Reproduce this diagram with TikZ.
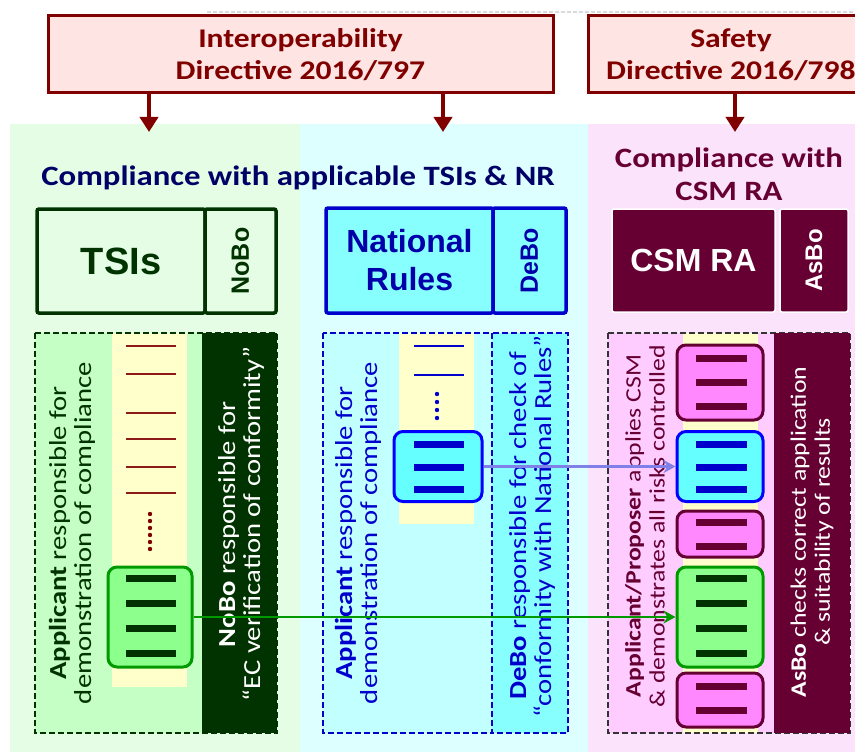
\documentclass[tikz,border=0pt]{standalone}
\usepackage{fontspec}
\setmainfont{Carlito}[FakeStretch=1.17]
\newfontfamily\arialfont{Liberation Sans}
\usetikzlibrary{arrows.meta}

\definecolor{dirred}{HTML}{800000}
\definecolor{dirpink}{HTML}{FFE4E4}
\definecolor{bggreen}{HTML}{E5FDE5}
\definecolor{bgcyan}{HTML}{DDFFFF}
\definecolor{bgpink}{HTML}{FCE3FC}
\definecolor{navy}{HTML}{000066}
\definecolor{maroon}{HTML}{660033}
\definecolor{dgreen}{HTML}{003300}
\definecolor{lgreen}{HTML}{C6FFC6}
\definecolor{boxgreen}{HTML}{8CFF8C}
\definecolor{edgegreen}{HTML}{009900}
\definecolor{nrcyan}{HTML}{88FFFF}
\definecolor{lcyan}{HTML}{C2FFFF}
\definecolor{boxcyan}{HTML}{66FFFF}
\definecolor{dblue}{HTML}{0000CC}
\definecolor{nrtext}{HTML}{0000AA}
\definecolor{lpink}{HTML}{FFCCFF}
\definecolor{boxpink}{HTML}{FF88FF}
\definecolor{pale}{HTML}{FFFFCC}
\definecolor{arrowblue}{HTML}{8080E8}

\begin{document}
\begin{tikzpicture}[x=1pt, y=-1pt,
  dirbox/.style={draw=dirred, fill=dirpink, line width=3pt, text=dirred, align=center, font=\bfseries\fontsize{27}{32}\selectfont, minimum height=77pt, inner sep=0pt},
  dirarrow/.style={dirred, line width=4pt, -{Triangle[length=15pt, width=18pt]}},
  head/.style={font=\bfseries\fontsize{28}{33}\selectfont, align=center},
  rulebox/.style={line width=3.5pt, rounded corners=2pt, inner sep=0pt, align=center},
  req/.style={rounded corners=9pt, line width=3pt, minimum width=86pt, inner sep=0pt},
  bar/.style={line width=7pt},
  remark/.style={rotate=90, align=center, font=\fontsize{24.5}{25}\selectfont},
  smallremark/.style={remark, font=\fontsize{22}{24}\selectfont},
  edge/.style={dashed, line width=1.6pt, dash pattern=on 6pt off 3pt},
]
\useasboundingbox (0,0) rectangle (855,752);
\fill[white] (0,0) rectangle (855,752);

% Background panels
\fill[bggreen] (10,124) rectangle (300,752);
\fill[bgcyan] (300,124) rectangle (588,752);
\fill[bgpink] (588,124) rectangle (855,752);
\draw[black!15, line width=2pt, dash pattern=on 4pt off 2pt] (207,12) -- (855,12);

% Directive boxes
\node[dirbox, minimum width=505pt] (interop) at (300.5,54.5) {Interoperability\\Directive 2016/797};
\node[dirbox, minimum width=286pt] (safety) at (731,54.5) {Safety\\Directive 2016/798};
\coordinate (tsiin) at (149,132);
\coordinate (nrin) at (443,132);
\coordinate (csmin) at (735,132);
\draw[dirarrow] (interop.south -| tsiin) -- (tsiin);
\draw[dirarrow] (interop.south -| nrin) -- (nrin);
\draw[dirarrow] (safety.south -| csmin) -- (csmin);

% Headings
\node[head, text=navy] (tsihead) at (298,178) {Compliance with applicable TSIs \& NR};
\node[head, text=maroon] (csmhead) at (729,174) {Compliance with\\CSM RA};

% Rule boxes
\node[rulebox, draw=dgreen, text=dgreen, minimum width=168pt, minimum height=104pt, font=\arialfont\bfseries\fontsize{38}{40}\selectfont] (tsi) at (121,261) {TSIs};
\node[rulebox, draw=dgreen, text=dgreen, minimum width=71pt, minimum height=104pt, font=\arialfont\bfseries\fontsize{25}{28}\selectfont] (nobo) at (240.5,261) {\rotatebox{90}{NoBo}};
\node[rulebox, draw=dblue, fill=nrcyan, text=nrtext, minimum width=167pt, minimum height=105pt, font=\arialfont\bfseries\fontsize{32}{38}\selectfont] (nr) at (409.5,260.5) {National\\Rules};
\node[rulebox, draw=dblue, fill=nrcyan, text=nrtext, minimum width=73pt, minimum height=105pt, font=\arialfont\bfseries\fontsize{25}{28}\selectfont] (debo) at (529.5,260.5) {\rotatebox{90}{DeBo}};
\node[rulebox, draw=white, line width=1.5pt, fill=maroon, text=white, minimum width=163pt, minimum height=103pt, font=\arialfont\bfseries\fontsize{32}{34}\selectfont] (csm) at (693.5,260.5) {CSM RA};
\node[rulebox, draw=white, line width=1.5pt, fill=maroon, text=white, minimum width=68pt, minimum height=103pt, font=\arialfont\bfseries\fontsize{24}{28}\selectfont] (asbo) at (814,260.5) {\rotatebox{90}{AsBo}};

% TSI column
\fill[lgreen] (35,333) rectangle (202,733);
\fill[pale] (112,333) rectangle (187,687);
\fill[dgreen] (202,333) rectangle (277,733);
\draw[edge, dgreen] (35,333) rectangle (277,733);
\foreach \y in {346,374,413,439,467,493}
  \draw[dirred!90, line width=2pt] (126,\y) -- (176,\y);
\foreach \y in {514,521,...,549}
  \fill[dirred] (150,\y) circle (2.2);
\node[req, draw=edgegreen, fill=boxgreen, minimum width=84pt, minimum height=100pt] (tsireq) at (150,617) {};
\foreach \y in {578,603,628,653}
  \draw[bar, dgreen] (126,\y) -- (176,\y);
\node[remark, text=dgreen] (tsiapp) at (72,533) {\textbf{Applicant} responsible for\\demonstration of compliance};
\node[remark, text=white] (tsicheck) at (241,524) {\textbf{NoBo} responsible for\\“EC verification of conformity”};

% National rules column
\fill[lcyan] (323,333) rectangle (492,733);
\fill[nrcyan] (492,333) rectangle (568,733);
\fill[pale] (399,333) rectangle (474,524);
\draw[edge, dblue] (323,333) rectangle (492,733);
\draw[edge, dblue] (492,333) rectangle (568,733);
\foreach \y in {346,375}
  \draw[dblue, line width=2pt] (414,\y) -- (464,\y);
\foreach \y in {394,402,...,418}
  \fill[dblue] (437,\y) circle (2.2);
\node[req, draw=blue, fill=boxcyan, minimum width=88pt, minimum height=70pt] (nrreq) at (438,466.5) {};
\foreach \y in {444,467,489}
  \draw[bar, dblue] (414,\y) -- (464,\y);
\node[remark, text=dblue] (nrapp) at (358,533) {\textbf{Applicant} responsible for\\demonstration of compliance};
\node[remark, text=dblue] (nrcheck) at (532,526) {\textbf{DeBo} responsible for check of\\“conformity with National Rules”};

% CSM RA column
\fill[lpink] (608,333) rectangle (774,733);
\fill[pale] (683,333) rectangle (758,733);
\draw[edge, black!80] (608,333) rectangle (850,733);
\fill[maroon] (774,333) rectangle (850,733);
\node[req, draw=maroon, fill=boxpink, minimum height=75pt] (csmreqa) at (720,382.5) {};
\node[req, draw=blue, fill=boxcyan, minimum height=70pt] (csmreqb) at (720,466.5) {};
\node[req, draw=maroon, fill=boxpink, minimum height=46pt] (csmreqc) at (720,534) {};
\node[req, draw=edgegreen, fill=boxgreen, minimum height=100pt] (csmreqd) at (720,617) {};
\node[req, draw=maroon, fill=boxpink, minimum height=54pt] (csmreqe) at (720,700) {};
\foreach \y in {358,382,406,522,546,686,710}
  \draw[bar, maroon] (696,\y) -- (747,\y);
\foreach \y in {444,467,489}
  \draw[bar, dblue] (696,\y) -- (747,\y);
\foreach \y in {578,603,628,653}
  \draw[bar, dgreen] (696,\y) -- (747,\y);
\node[smallremark, text=maroon] (csmapp) at (645,526) {\textbf{Applicant/Proposer} applies CSM\\\& demonstrates all risks controlled};
\node[smallremark, text=white] (csmcheck) at (812,532) {\textbf{AsBo} checks correct application\\\& suitability of results};

% Links between columns
\draw[arrowblue, line width=3pt, -{Stealth[length=12pt, width=13pt]}] (nrreq.east) -- (csmreqb.west);
\draw[edgegreen, line width=2.5pt, -{Stealth[length=12pt, width=13pt]}] (tsireq.east) -- (csmreqd.west);

\end{tikzpicture}
\end{document}
